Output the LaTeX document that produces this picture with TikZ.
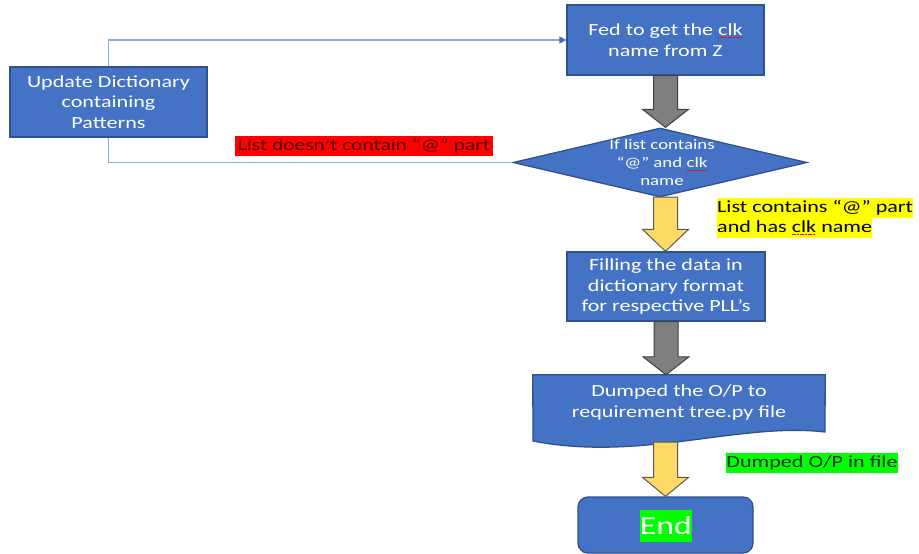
\documentclass[tikz,border=0pt]{standalone}
\usepackage{fontspec}
\setmainfont{Carlito}[FakeStretch=1.3]
\usetikzlibrary{shapes.geometric,arrows.meta,calc}
\definecolor{boxblue}{HTML}{4472C4}
\definecolor{boxedge}{HTML}{2F528F}
\definecolor{connc}{HTML}{8FAADC}
\definecolor{tipc}{HTML}{4472C4}
\definecolor{grayfill}{HTML}{7F7F7F}
\definecolor{grayedge}{HTML}{404040}
\definecolor{yelfill}{HTML}{FFD966}
\definecolor{yeledge}{HTML}{595959}
\definecolor{hlred}{HTML}{FF0000}
\definecolor{hlyel}{HTML}{FFFF00}
\definecolor{hlgreen}{HTML}{00FF00}
\definecolor{redtext}{HTML}{4A0000}
\definecolor{greentext}{HTML}{003300}
\newlength\spw
\newcommand\spellerr[1]{\settowidth{\spw}{#1}\rlap{#1}\textcolor{red}{\raisebox{-2.5pt}{\hbox to \spw{\leaders\hbox{\rule{1.2pt}{0.8pt}\kern0.4pt}\hfil}}}}
\newcommand\blockarr[4]{%
  \draw[#1] let \p1=#2, \p2=#3 in
    (\x1-12pt,\y1) -- (\x1+12pt,\y1) -- (\x1+12pt,\y2+#4) -- (\x1+23pt,\y2+#4)
    -- (\x1,\y2) -- (\x1-23pt,\y2+#4) -- (\x1-12pt,\y2+#4) -- cycle;}
\tikzset{
  boxst/.style={draw=boxedge, line width=1.3pt, fill=boxblue, text=white,
    inner sep=0pt, align=center, font=\fontsize{17}{20.5}\selectfont},
  conn/.style={draw=connc, line width=1.1pt},
  grayblk/.style={fill=grayfill, draw=grayedge, line width=1pt},
  yelblk/.style={fill=yelfill, draw=yeledge, line width=1pt},
  hl/.style={inner sep=0pt, font=\fontsize{17}{20}\selectfont},
}
\begin{document}
\begin{tikzpicture}[x=1pt,y=-1pt]
\useasboundingbox[fill=white] (0,0) rectangle (919,554);
% boxes
\node[boxst, minimum width=197pt, minimum height=70pt] (upd) at (108.5,102)
  {Update Dictionary\\containing\\Patterns};
\node[boxst, minimum width=197pt, minimum height=70pt] (fed) at (665.5,40)
  {Fed to get the \spellerr{clk}\\name from Z};
\node[diamond, draw=boxedge, line width=1.3pt, fill=boxblue, inner sep=0pt,
  minimum width=294pt, minimum height=69pt, aspect=4.26] (dec) at (660,162.5) {};
\node[text=white, align=center, inner sep=0pt, font=\fontsize{14.5}{18}\selectfont]
  (dectext) at (662,163) {If list contains\\“@” and \spellerr{clk}\\name};
\node[boxst, minimum width=198pt, minimum height=69pt] (fill) at (666,286.5)
  {Filling the data in\\dictionary format\\for respective PLL’s};
\node[inner sep=0pt, minimum width=292pt, minimum height=57pt] (dump) at (679,403.5) {};
\draw[draw=boxedge, line width=1.3pt, fill=boxblue]
  (dump.north west) -- (dump.north east) -- (825,432)
  .. controls (740,422) and (640,462) .. (533,441) -- cycle;
\node[text=white, align=center, inner sep=0pt, font=\fontsize{17}{20.5}\selectfont]
  (dumptext) at (679,402.5) {Dumped the O/P to\\requirement tree.py file};
\node[boxst, rounded corners=10pt, minimum width=175pt, minimum height=56pt] (endn) at (665.5,525) {};
\node[fill=hlgreen, text=white, inner sep=0pt, minimum width=52pt, minimum height=32pt,
  font=\fontsize{26}{30}\selectfont] (endlbl) at (666,526) {End};
% block arrows
\coordinate (decbot) at (665.5,197);
\coordinate (dumpbot) at (665.5,442);
\blockarr{grayblk}{(fed.south)}{(dec.north)}{18pt}
\blockarr{yelblk}{(decbot)}{(fill.north)}{22pt}
\blockarr{grayblk}{(fill.south)}{(dump.north)}{18pt}
\blockarr{yelblk}{(dumpbot)}{(endn.north)}{19pt}
% connectors
\draw[conn, -{Triangle[length=7pt,width=7pt,fill=tipc,color=tipc]}] (upd.north) |- (fed.west);
\draw[conn] (dec.west) -| (upd.south);
% labels
\node[hl, fill=hlred, text=redtext, minimum width=258pt, minimum height=20pt,
  font=\fontsize{16.5}{19}\selectfont] (lblno) at (364,146) {List doesn’t contain “@” part};
\node[hl, fill=hlyel, anchor=west, minimum height=20pt] (lblyes1) at (717,208) {List contains “@” part};
\node[hl, fill=hlyel, anchor=west, minimum height=20pt] (lblyes2) at (717,228) {and has \spellerr{clk} name};
\node[hl, fill=hlgreen, text=greentext, minimum width=170pt, minimum height=20pt] (lbldump) at (812,463) {Dumped O/P in file};
\end{tikzpicture}
\end{document}
